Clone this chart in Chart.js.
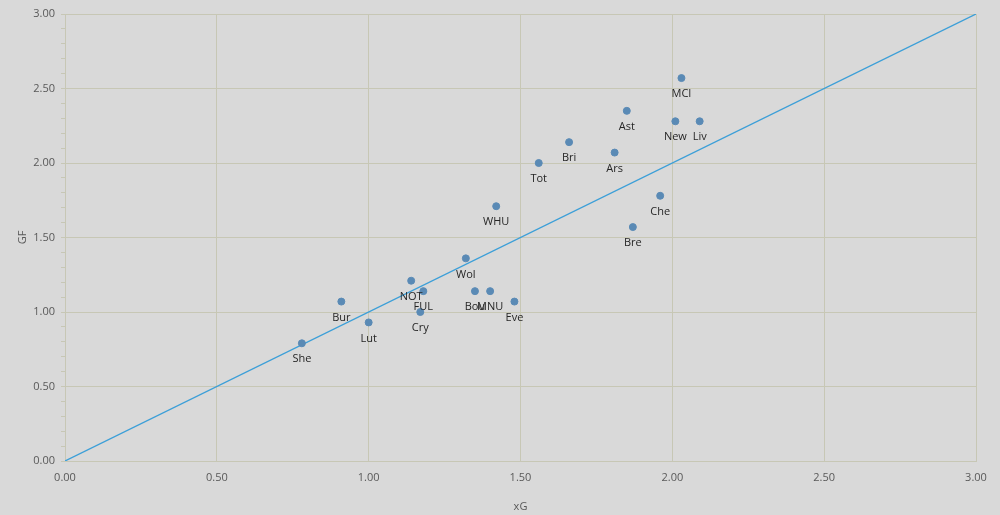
<!DOCTYPE html>
<html>
<head>
<meta charset="utf-8">
<script src="https://cdn.jsdelivr.net/npm/chart.js@4"></script>
<style>
  html, body { margin: 0; padding: 0; background: #d9d9d9; }
  canvas { display: block; }
</style>
</head>
<body>
<canvas id="xgChart" width="1000" height="515"></canvas>
<script>
const teams = ['She', 'Bur', 'Lut', 'NOT', 'FUL', 'Cry', 'Wol', 'Bou', 'MNU', 'Eve',
  'WHU', 'Tot', 'Bri', 'Ars', 'Ast', 'MCI', 'New', 'Liv', 'Che', 'Bre'];
const xG = [0.78, 0.91, 1.00, 1.14, 1.18, 1.17, 1.32, 1.35, 1.40, 1.48,
  1.42, 1.56, 1.66, 1.81, 1.85, 2.03, 2.01, 2.09, 1.96, 1.87];
const GF = [0.79, 1.07, 0.93, 1.21, 1.14, 1.00, 1.36, 1.14, 1.14, 1.07,
  1.71, 2.00, 2.14, 2.07, 2.35, 2.57, 2.28, 2.28, 1.78, 1.57];
const refLine = [0, 3];

const gridColor = '#c7c7b5';
const textColor = '#595959';
const font = { family: 'Open Sans', size: 11 };

const isMajor = v => Math.abs(v * 2 - Math.round(v * 2)) < 1e-6;

// team names under each dot
const teamLabels = {
  id: 'teamLabels',
  afterDatasetsDraw(chart) {
    const ctx = chart.ctx;
    const meta = chart.getDatasetMeta(0);
    ctx.save();
    ctx.font = '11px "Open Sans"';
    ctx.fillStyle = '#262626';
    ctx.textAlign = 'center';
    ctx.textBaseline = 'middle';
    meta.data.forEach((pt, i) => {
      ctx.fillText(teams[i], pt.x, pt.y + 16);
    });
    ctx.restore();
  }
};

const ctx = document.getElementById('xgChart').getContext('2d');
new Chart(ctx, {
  type: 'scatter',
  data: {
    datasets: [
      {
        label: 'Teams',
        data: teams.map((t, i) => ({ x: xG[i], y: GF[i] })),
        backgroundColor: '#5a8ab5',
        borderColor: '#5a8ab5',
        pointRadius: 3.5,
        pointHoverRadius: 3.5
      },
      {
        label: 'xG = GF',
        type: 'line',
        data: refLine.map(v => ({ x: v, y: v })),
        borderColor: '#3c9fd8',
        borderWidth: 1.3,
        pointRadius: 0,
        fill: false
      }
    ]
  },
  options: {
    responsive: false,
    animation: false,
    layout: { padding: { top: 14, right: 24, left: 0, bottom: 0 } },
    plugins: {
      legend: { display: false },
      tooltip: { enabled: false }
    },
    scales: {
      x: {
        type: 'linear',
        min: 0,
        max: 3,
        ticks: {
          stepSize: 0.5,
          color: textColor,
          font: font,
          padding: 10,
          callback: v => v.toFixed(2)
        },
        grid: { color: gridColor, drawTicks: false },
        border: { color: gridColor },
        title: { display: true, text: 'xG', color: textColor, font: font, padding: { top: 4, bottom: 2 } },
        afterFit(scale) { scale.height = 54; }
      },
      y: {
        type: 'linear',
        min: 0,
        max: 3,
        ticks: {
          stepSize: 0.1,
          autoSkip: false,
          color: textColor,
          font: font,
          padding: 6,
          callback: v => isMajor(v) ? v.toFixed(2) : ''
        },
        grid: {
          color: c => isMajor(c.tick.value) ? gridColor : 'rgba(0,0,0,0)',
          tickColor: gridColor,
          tickLength: 4
        },
        border: { color: gridColor },
        title: { display: true, text: 'GF', color: textColor, font: font, padding: { top: 16, bottom: 0 } },
        afterFit(scale) { scale.width = 65; }
      }
    }
  },
  plugins: [teamLabels]
});
</script>
</body>
</html>
